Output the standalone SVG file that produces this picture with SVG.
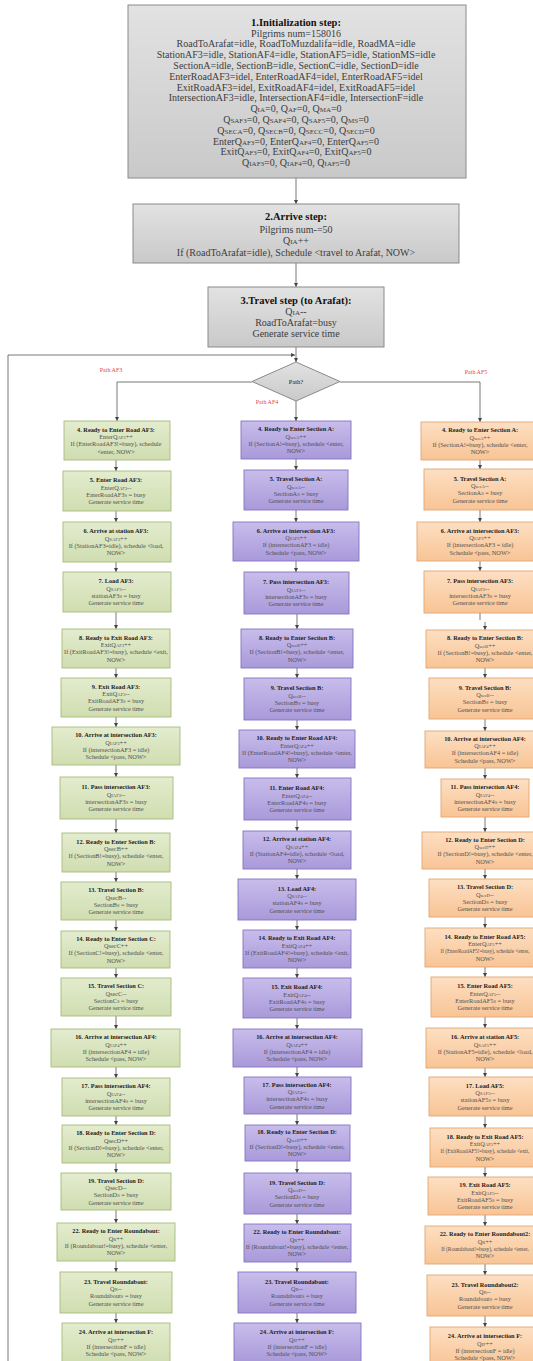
<svg xmlns="http://www.w3.org/2000/svg" width="533" height="1361" viewBox="0 0 533 1361">
<defs>
<linearGradient id="gGray" x1="0" y1="0" x2="0" y2="1"><stop offset="0" stop-color="#e2e2e2"/><stop offset="1" stop-color="#c9c9c9"/></linearGradient>
<linearGradient id="gGreen" x1="0" y1="0" x2="0" y2="1"><stop offset="0" stop-color="#e3ecce"/><stop offset="1" stop-color="#d0ddb0"/></linearGradient>
<linearGradient id="gPurple" x1="0" y1="0" x2="0" y2="1"><stop offset="0" stop-color="#c8bdeb"/><stop offset="1" stop-color="#a999da"/></linearGradient>
<linearGradient id="gOrange" x1="0" y1="0" x2="0" y2="1"><stop offset="0" stop-color="#fddfc2"/><stop offset="1" stop-color="#f8c495"/></linearGradient>
<marker id="ah" viewBox="0 0 6 6" refX="6" refY="3" markerWidth="4" markerHeight="4" markerUnits="userSpaceOnUse" orient="auto"><path d="M0,0 L6,3 L0,6 z" fill="#444"/></marker>
<style>
.gray rect, .gray polygon{fill:url(#gGray);stroke:#8a8a8a;stroke-width:1}
.green rect{fill:url(#gGreen);stroke:#a6bb7c;stroke-width:0.9}
.purple rect{fill:url(#gPurple);stroke:#8574c2;stroke-width:0.9}
.orange rect{fill:url(#gOrange);stroke:#e3a774;stroke-width:0.9}
text{font-family:"Liberation Serif","Times New Roman",serif;text-anchor:middle}
.bt{font-size:10px;fill:#3c3c3c}
.bh{font-size:10.5px;font-weight:bold;fill:#111}
.bs{font-size:7px}
.t{font-size:6.3px;fill:#505050}
.h{font-size:6.3px;font-weight:bold;fill:#1c1c1c}
.s{font-size:4.6px}
.t.n1{font-size:5.1px}
.t.n2{font-size:5.4px}
.red{font-size:6px;fill:#e4474a}
.dec{font-size:6.5px;fill:#222}
#connectors line, #connectors polyline{stroke:#555;stroke-width:0.8;fill:none}
</style>
</defs>
<rect x="0" y="0" width="533" height="1361" fill="#ffffff"/>

<g id="connectors">
<line x1="296" y1="178" x2="296" y2="204" marker-end="url(#ah)"/>
<line x1="296" y1="263" x2="296" y2="287" marker-end="url(#ah)"/>
<line x1="296" y1="347" x2="296" y2="362" marker-end="url(#ah)"/>
<polyline points="8,1361 8,355 295,355" marker-end="url(#ah)"/>
<polyline points="252,382 117,382 117,421" marker-end="url(#ah)"/>
<polyline points="340,382 480,382 480,422" marker-end="url(#ah)"/>
<line x1="296" y1="401" x2="296" y2="421" marker-end="url(#ah)"/>
<line x1="116" y1="460" x2="116" y2="471" marker-end="url(#ah)"/>
<line x1="116" y1="511" x2="116" y2="522" marker-end="url(#ah)"/>
<line x1="116" y1="562" x2="116" y2="572" marker-end="url(#ah)"/>
<line x1="116" y1="612" x2="116" y2="629" marker-end="url(#ah)"/>
<line x1="116" y1="668" x2="116" y2="678" marker-end="url(#ah)"/>
<line x1="116" y1="717" x2="116" y2="727" marker-end="url(#ah)"/>
<line x1="116" y1="765" x2="116" y2="777" marker-end="url(#ah)"/>
<line x1="116" y1="819" x2="116" y2="833" marker-end="url(#ah)"/>
<line x1="116" y1="872" x2="116" y2="882" marker-end="url(#ah)"/>
<line x1="116" y1="920" x2="116" y2="931" marker-end="url(#ah)"/>
<line x1="116" y1="968" x2="116" y2="978" marker-end="url(#ah)"/>
<line x1="116" y1="1016" x2="116" y2="1029" marker-end="url(#ah)"/>
<line x1="116" y1="1067" x2="116" y2="1078" marker-end="url(#ah)"/>
<line x1="116" y1="1116" x2="116" y2="1125" marker-end="url(#ah)"/>
<line x1="116" y1="1163" x2="116" y2="1173" marker-end="url(#ah)"/>
<line x1="116" y1="1210" x2="116" y2="1223" marker-end="url(#ah)"/>
<line x1="116" y1="1261" x2="116" y2="1272" marker-end="url(#ah)"/>
<line x1="116" y1="1313" x2="116" y2="1323" marker-end="url(#ah)"/>
<line x1="296" y1="459" x2="296" y2="470" marker-end="url(#ah)"/>
<line x1="296" y1="510" x2="296" y2="522" marker-end="url(#ah)"/>
<line x1="296" y1="561" x2="296" y2="572" marker-end="url(#ah)"/>
<line x1="297" y1="614" x2="297" y2="629" marker-end="url(#ah)"/>
<line x1="297" y1="668" x2="297" y2="678" marker-end="url(#ah)"/>
<line x1="297" y1="720" x2="297" y2="730" marker-end="url(#ah)"/>
<line x1="297" y1="768" x2="297" y2="778" marker-end="url(#ah)"/>
<line x1="297" y1="820" x2="297" y2="831" marker-end="url(#ah)"/>
<line x1="297" y1="869" x2="297" y2="879" marker-end="url(#ah)"/>
<line x1="297" y1="920" x2="297" y2="930" marker-end="url(#ah)"/>
<line x1="297" y1="968" x2="297" y2="978" marker-end="url(#ah)"/>
<line x1="297" y1="1018" x2="297" y2="1029" marker-end="url(#ah)"/>
<line x1="297" y1="1067" x2="297" y2="1077" marker-end="url(#ah)"/>
<line x1="297" y1="1114" x2="297" y2="1125" marker-end="url(#ah)"/>
<line x1="297" y1="1161" x2="297" y2="1173" marker-end="url(#ah)"/>
<line x1="297" y1="1214" x2="297" y2="1224" marker-end="url(#ah)"/>
<line x1="297" y1="1262" x2="297" y2="1272" marker-end="url(#ah)"/>
<line x1="297" y1="1313" x2="297" y2="1323" marker-end="url(#ah)"/>
<line x1="480" y1="460" x2="480" y2="469" marker-end="url(#ah)"/>
<line x1="480" y1="510" x2="480" y2="522" marker-end="url(#ah)"/>
<line x1="480" y1="561" x2="480" y2="571" marker-end="url(#ah)"/>
<line x1="480" y1="613" x2="480" y2="620"/>
<line x1="485" y1="622" x2="485" y2="630" marker-end="url(#ah)"/>
<line x1="485" y1="668" x2="485" y2="678" marker-end="url(#ah)"/>
<line x1="485" y1="719" x2="485" y2="731" marker-end="url(#ah)"/>
<line x1="485" y1="768" x2="485" y2="779" marker-end="url(#ah)"/>
<line x1="485" y1="817" x2="485" y2="832" marker-end="url(#ah)"/>
<line x1="485" y1="869" x2="485" y2="879" marker-end="url(#ah)"/>
<line x1="485" y1="917" x2="485" y2="928" marker-end="url(#ah)"/>
<line x1="485" y1="967" x2="485" y2="977" marker-end="url(#ah)"/>
<line x1="485" y1="1017" x2="485" y2="1028" marker-end="url(#ah)"/>
<line x1="485" y1="1068" x2="485" y2="1077" marker-end="url(#ah)"/>
<line x1="485" y1="1116" x2="485" y2="1128" marker-end="url(#ah)"/>
<line x1="485" y1="1167" x2="485" y2="1177" marker-end="url(#ah)"/>
<line x1="485" y1="1215" x2="485" y2="1226" marker-end="url(#ah)"/>
<line x1="485" y1="1264" x2="485" y2="1275" marker-end="url(#ah)"/>
<line x1="485" y1="1316" x2="485" y2="1327" marker-end="url(#ah)"/>
</g>

<g id="init" class="gray">
<rect x="128" y="5" width="338" height="173"/>
<text class="bh" x="296" y="26.2">1.Initialization step:</text>
<text class="bt" x="296" y="36.5">Pilgrims num=158016</text>
<text class="bt" x="296" y="47.3">RoadToArafat=idle, RoadToMuzdalifa=idle, RoadMA=idle</text>
<text class="bt" x="296" y="58.1">StationAF3=idle, StationAF4=idle, StationAF5=idle, StationMS=idle</text>
<text class="bt" x="296" y="68.9">SectionA=idle, SectionB=idle, SectionC=idle, SectionD=idle</text>
<text class="bt" x="296" y="79.7">EnterRoadAF3=idel, EnterRoadAF4=idel, EnterRoadAF5=idel</text>
<text class="bt" x="296" y="90.5">ExitRoadAF3=idel, ExitRoadAF4=idel, ExitRoadAF5=idel</text>
<text class="bt" x="296" y="101.3">IntersectionAF3=idle, IntersectionAF4=idle, IntersectionF=idle</text>
<text class="bt" x="296" y="112.1">Q<tspan class="bs">IA</tspan>=0, Q<tspan class="bs">AF</tspan>=0, Q<tspan class="bs">MA</tspan>=0</text>
<text class="bt" x="296" y="122.9">Q<tspan class="bs">SAF3</tspan>=0, Q<tspan class="bs">SAF4</tspan>=0, Q<tspan class="bs">SAF5</tspan>=0,  Q<tspan class="bs">MS</tspan>=0</text>
<text class="bt" x="296" y="133.7">Q<tspan class="bs">SECA</tspan>=0, Q<tspan class="bs">SECB</tspan>=0, Q<tspan class="bs">SECC</tspan>=0, Q<tspan class="bs">SECD</tspan>=0</text>
<text class="bt" x="296" y="144.5">EnterQ<tspan class="bs">AF3</tspan>=0, EnterQ<tspan class="bs">AF4</tspan>=0, EnterQ<tspan class="bs">AF5</tspan>=0</text>
<text class="bt" x="296" y="155.3">ExitQ<tspan class="bs">AF3</tspan>=0, ExitQ<tspan class="bs">AF4</tspan>=0, ExitQ<tspan class="bs">AF5</tspan>=0</text>
<text class="bt" x="296" y="166.1">Q<tspan class="bs">IAF3</tspan>=0, Q<tspan class="bs">IAF4</tspan>=0, Q<tspan class="bs">IAF5</tspan>=0</text>
</g>

<g id="arrive" class="gray">
<rect x="133" y="204" width="326" height="59"/>
<text class="bh" x="296" y="219.7">2.Arrive step:</text>
<text class="bt" x="296" y="232.8">Pilgrims num-=50</text>
<text class="bt" x="296" y="244.2">Q<tspan class="bs">IA</tspan>++</text>
<text class="bt" x="296" y="255.8">If (RoadToArafat=idle), Schedule &lt;travel to Arafat, NOW&gt;</text>
</g>

<g id="travel" class="gray">
<rect x="208" y="287" width="176" height="60"/>
<text class="bh" x="296" y="304">3.Travel step (to Arafat):</text>
<text class="bt" x="296" y="315">Q<tspan class="bs">IA</tspan>--</text>
<text class="bt" x="296" y="326">RoadToArafat=busy</text>
<text class="bt" x="296" y="337">Generate service time</text>
</g>

<g id="decision" class="gray">
<polygon points="296,362 340,381.5 296,401 252,381.5"/>
<text class="dec" x="296" y="384">Path?</text>
</g>

<g id="labels">
<text class="red" x="111" y="372">Path AF3</text>
<text class="red" x="267" y="404">Path AF4</text>
<text class="red" x="476" y="374">Path AF5</text>
</g>

<g id="L4" class="green"><rect x="64" y="421" width="106" height="39"/>
<text class="h" x="116" y="431.9">4. Ready to Enter Road AF3:</text>
<text class="t" x="116" y="439.1">EnterQ<tspan class="s">AF3</tspan>++</text>
<text class="t" x="116" y="446.3">If (EnterRoadAF3!=busy), schedule</text>
<text class="t" x="116" y="453.5">&lt;enter, NOW&gt;</text></g>
<g id="L5" class="green"><rect x="63" y="471" width="108" height="40"/>
<text class="h" x="116" y="482.4">5. Enter Road AF3:</text>
<text class="t" x="116" y="489.6">EnterQ<tspan class="s">AF3</tspan>--</text>
<text class="t" x="116" y="496.8">EnterRoadAF3<tspan class="s">S</tspan> = busy</text>
<text class="t" x="116" y="504">Generate service time</text></g>
<g id="L6" class="green"><rect x="63" y="522" width="108" height="40"/>
<text class="h" x="116" y="533.4">6. Arrive at station AF3:</text>
<text class="t" x="116" y="540.6">Q<tspan class="s">SAF3</tspan>++</text>
<text class="t" x="116" y="547.8">If (StationAF3=idle), schedule &lt;load,</text>
<text class="t" x="116" y="555">NOW&gt;</text></g>
<g id="L7" class="green"><rect x="63" y="572" width="108" height="40"/>
<text class="h" x="116" y="583.4">7. Load AF3:</text>
<text class="t" x="116" y="590.6">Q<tspan class="s">SAF3</tspan>--</text>
<text class="t" x="116" y="597.8">stationAF3<tspan class="s">S</tspan> = busy</text>
<text class="t" x="116" y="605">Generate service time</text></g>
<g id="L8" class="green"><rect x="62" y="629" width="108" height="39"/>
<text class="h" x="116" y="639.9">8. Ready to Exit Road AF3:</text>
<text class="t" x="116" y="647.1">ExitQ<tspan class="s">AF3</tspan>++</text>
<text class="t" x="116" y="654.3">If (ExitRoadAF3!=busy), schedule &lt;exit,</text>
<text class="t" x="116" y="661.5">NOW&gt;</text></g>
<g id="L9" class="green"><rect x="61" y="678" width="110" height="39"/>
<text class="h" x="116" y="688.9">9. Exit Road AF3:</text>
<text class="t" x="116" y="696.1">ExitQ<tspan class="s">AF3</tspan>--</text>
<text class="t" x="116" y="703.3">ExitRoadAF3<tspan class="s">S</tspan> = busy</text>
<text class="t" x="116" y="710.5">Generate service time</text></g>
<g id="L10" class="green"><rect x="52" y="727" width="128" height="38"/>
<text class="h" x="116" y="737.4">10. Arrive at intersection AF3:</text>
<text class="t" x="116" y="744.6">Q<tspan class="s">IAF3</tspan>++</text>
<text class="t" x="116" y="751.8">If (intersectionAF3 = idle)</text>
<text class="t" x="116" y="759">Schedule &lt;pass, NOW&gt;</text></g>
<g id="L11" class="green"><rect x="60" y="777" width="113" height="42"/>
<text class="h" x="116" y="789.4">11. Pass intersection AF3:</text>
<text class="t" x="116" y="796.6">Q<tspan class="s">IAF3</tspan>--</text>
<text class="t" x="116" y="803.8">intersectionAF3<tspan class="s">S</tspan> = busy</text>
<text class="t" x="116" y="811">Generate service time</text></g>
<g id="L12" class="green"><rect x="62" y="833" width="108" height="39"/>
<text class="h" x="116" y="843.9">12. Ready to Enter Section B:</text>
<text class="t" x="116" y="851.1">QsecB++</text>
<text class="t" x="116" y="858.3">If (SectionB!=busy), schedule &lt;enter,</text>
<text class="t" x="116" y="865.5">NOW&gt;</text></g>
<g id="L13" class="green"><rect x="61" y="882" width="110" height="38"/>
<text class="h" x="116" y="892.4">13. Travel Section B:</text>
<text class="t" x="116" y="899.6">QsecB--</text>
<text class="t" x="116" y="906.8">SectionB<tspan class="s">S</tspan> = busy</text>
<text class="t" x="116" y="914">Generate service time</text></g>
<g id="L14" class="green"><rect x="61" y="931" width="109" height="37"/>
<text class="h" x="116" y="940.9">14. Ready to Enter Section C:</text>
<text class="t" x="116" y="948.1">QsecC++</text>
<text class="t" x="116" y="955.3">If (SectionC!=busy), schedule &lt;enter,</text>
<text class="t" x="116" y="962.5">NOW&gt;</text></g>
<g id="L15" class="green"><rect x="61" y="978" width="110" height="38"/>
<text class="h" x="116" y="988.4">15. Travel Section C:</text>
<text class="t" x="116" y="995.6">QsecC--</text>
<text class="t" x="116" y="1002.8">SectionC<tspan class="s">S</tspan> = busy</text>
<text class="t" x="116" y="1010">Generate service time</text></g>
<g id="L16" class="green"><rect x="51" y="1029" width="129" height="38"/>
<text class="h" x="116" y="1039.4">16. Arrive at intersection AF4:</text>
<text class="t" x="116" y="1046.6">Q<tspan class="s">IAF4</tspan>++</text>
<text class="t" x="116" y="1053.8">If (intersectionAF4 = idle)</text>
<text class="t" x="116" y="1061">Schedule &lt;pass, NOW&gt;</text></g>
<g id="L17" class="green"><rect x="62" y="1078" width="108" height="38"/>
<text class="h" x="116" y="1088.4">17. Pass intersection AF4:</text>
<text class="t" x="116" y="1095.6">Q<tspan class="s">IAF4</tspan>--</text>
<text class="t" x="116" y="1102.8">intersectionAF4<tspan class="s">S</tspan> = busy</text>
<text class="t" x="116" y="1110">Generate service time</text></g>
<g id="L18" class="green"><rect x="62" y="1125" width="108" height="38"/>
<text class="h" x="116" y="1135.4">18. Ready to Enter Section D:</text>
<text class="t" x="116" y="1142.6">QsecD++</text>
<text class="t" x="116" y="1149.8">If (SectionD!=busy), schedule &lt;enter,</text>
<text class="t" x="116" y="1157">NOW&gt;</text></g>
<g id="L19" class="green"><rect x="61" y="1173" width="110" height="37"/>
<text class="h" x="116" y="1182.9">19. Travel Section D:</text>
<text class="t" x="116" y="1190.1">QsecD--</text>
<text class="t" x="116" y="1197.3">SectionD<tspan class="s">S</tspan> = busy</text>
<text class="t" x="116" y="1204.5">Generate service time</text></g>
<g id="L22" class="green"><rect x="57" y="1223" width="118" height="38"/>
<text class="h" x="116" y="1233.4">22. Ready to Enter Roundabout:</text>
<text class="t" x="116" y="1240.6">Q<tspan class="s">R</tspan>++</text>
<text class="t" x="116" y="1247.8">If (Roundabout!=busy), schedule &lt;enter,</text>
<text class="t" x="116" y="1255">NOW&gt;</text></g>
<g id="L23" class="green"><rect x="60" y="1272" width="112" height="41"/>
<text class="h" x="116" y="1283.9">23. Travel Roundabout:</text>
<text class="t" x="116" y="1291.1">Q<tspan class="s">R</tspan>--</text>
<text class="t" x="116" y="1298.3">Roundabout<tspan class="s">S</tspan> = busy</text>
<text class="t" x="116" y="1305.5">Generate service time</text></g>
<g id="L24" class="green"><rect x="62" y="1323" width="108" height="40"/>
<text class="h" x="116" y="1334.4">24. Arrive at intersection F:</text>
<text class="t" x="116" y="1341.6">Q<tspan class="s">IF</tspan>++</text>
<text class="t" x="116" y="1348.8">If (intersectionF = idle)</text>
<text class="t" x="116" y="1356">Schedule &lt;pass, NOW&gt;</text></g>

<g id="M4" class="purple"><rect x="241" y="421" width="110" height="38"/>
<text class="h" x="296" y="431.4">4. Ready to Enter Section A:</text>
<text class="t" x="296" y="438.6">Q<tspan class="s">secA</tspan>++</text>
<text class="t" x="296" y="445.8">If (SectionA!=busy), schedule &lt;enter,</text>
<text class="t" x="296" y="453">NOW&gt;</text></g>
<g id="M5" class="purple"><rect x="244" y="470" width="104" height="40"/>
<text class="h" x="296" y="481.4">5. Travel Section A:</text>
<text class="t" x="296" y="488.6">Q<tspan class="s">secA</tspan>--</text>
<text class="t" x="296" y="495.8">SectionA<tspan class="s">S</tspan> = busy</text>
<text class="t" x="296" y="503">Generate service time</text></g>
<g id="M6" class="purple"><rect x="233" y="522" width="126" height="39"/>
<text class="h" x="296" y="532.9">6. Arrive at intersection AF3:</text>
<text class="t" x="296" y="540.1">Q<tspan class="s">IAF3</tspan>++</text>
<text class="t" x="296" y="547.3">If (intersectionAF3 = idle)</text>
<text class="t" x="296" y="554.5">Schedule &lt;pass, NOW&gt;</text></g>
<g id="M7" class="purple"><rect x="244" y="572" width="105" height="42"/>
<text class="h" x="296" y="584.4">7. Pass intersection AF3:</text>
<text class="t" x="296" y="591.6">Q<tspan class="s">IAF3</tspan>--</text>
<text class="t" x="296" y="598.8">intersectionAF3<tspan class="s">S</tspan> = busy</text>
<text class="t" x="296" y="606">Generate service time</text></g>
<g id="M8" class="purple"><rect x="241" y="629" width="112" height="39"/>
<text class="h" x="297" y="639.9">8. Ready to Enter Section B:</text>
<text class="t" x="297" y="647.1">Q<tspan class="s">secB</tspan>++</text>
<text class="t" x="297" y="654.3">If (SectionB!=busy), schedule &lt;enter,</text>
<text class="t" x="297" y="661.5">NOW&gt;</text></g>
<g id="M9" class="purple"><rect x="244" y="678" width="107" height="42"/>
<text class="h" x="297" y="690.4">9. Travel Section B:</text>
<text class="t" x="297" y="697.6">Q<tspan class="s">secB</tspan>--</text>
<text class="t" x="297" y="704.8">SectionB<tspan class="s">S</tspan> = busy</text>
<text class="t" x="297" y="712">Generate service time</text></g>
<g id="M10" class="purple"><rect x="239" y="730" width="116" height="38"/>
<text class="h" x="297" y="740.4">10. Ready to Enter Road AF4:</text>
<text class="t" x="297" y="747.6">EnterQ<tspan class="s">AF4</tspan>++</text>
<text class="t" x="297" y="754.8">If (EnterRoadAF4!=busy), schedule &lt;enter,</text>
<text class="t" x="297" y="762">NOW&gt;</text></g>
<g id="M11" class="purple"><rect x="244" y="778" width="107" height="42"/>
<text class="h" x="297" y="790.4">11. Enter Road AF4:</text>
<text class="t" x="297" y="797.6">EnterQ<tspan class="s">AF4</tspan>--</text>
<text class="t" x="297" y="804.8">EnterRoadAF4<tspan class="s">S</tspan> = busy</text>
<text class="t" x="297" y="812">Generate service time</text></g>
<g id="M12" class="purple"><rect x="243" y="831" width="108" height="38"/>
<text class="h" x="297" y="841.4">12. Arrive at station AF4:</text>
<text class="t" x="297" y="848.6">Q<tspan class="s">SAF4</tspan>++</text>
<text class="t" x="297" y="855.8">If (StationAF4=idle), schedule &lt;load,</text>
<text class="t" x="297" y="863">NOW&gt;</text></g>
<g id="M13" class="purple"><rect x="238" y="879" width="118" height="41"/>
<text class="h" x="297" y="890.9">13. Load AF4:</text>
<text class="t" x="297" y="898.1">Q<tspan class="s">SAF4</tspan>--</text>
<text class="t" x="297" y="905.3">stationAF4<tspan class="s">S</tspan> = busy</text>
<text class="t" x="297" y="912.5">Generate service time</text></g>
<g id="M14" class="purple"><rect x="243" y="930" width="108" height="38"/>
<text class="h" x="297" y="940.4">14. Ready to Exit Road AF4:</text>
<text class="t" x="297" y="947.6">ExitQ<tspan class="s">AF4</tspan>++</text>
<text class="t" x="297" y="954.8">If (ExitRoadAF4!=busy), schedule &lt;exit,</text>
<text class="t" x="297" y="962">NOW&gt;</text></g>
<g id="M15" class="purple"><rect x="243" y="978" width="108" height="40"/>
<text class="h" x="297" y="989.4">15. Exit Road AF4:</text>
<text class="t" x="297" y="996.6">ExitQ<tspan class="s">AF4</tspan>--</text>
<text class="t" x="297" y="1003.8">ExitRoadAF4<tspan class="s">S</tspan> = busy</text>
<text class="t" x="297" y="1011">Generate service time</text></g>
<g id="M16" class="purple"><rect x="233" y="1029" width="129" height="38"/>
<text class="h" x="297" y="1039.4">16. Arrive at intersection AF4:</text>
<text class="t" x="297" y="1046.6">Q<tspan class="s">IAF4</tspan>++</text>
<text class="t" x="297" y="1053.8">If (intersectionAF4 = idle)</text>
<text class="t" x="297" y="1061">Schedule &lt;pass, NOW&gt;</text></g>
<g id="M17" class="purple"><rect x="244" y="1077" width="107" height="37"/>
<text class="h" x="297" y="1086.9">17. Pass intersection AF4:</text>
<text class="t" x="297" y="1094.1">Q<tspan class="s">IAF4</tspan>--</text>
<text class="t" x="297" y="1101.3">intersectionAF4<tspan class="s">S</tspan> = busy</text>
<text class="t" x="297" y="1108.5">Generate service time</text></g>
<g id="M18" class="purple"><rect x="245" y="1125" width="105" height="36"/>
<text class="h" x="297" y="1134.4">18. Ready to Enter Section D:</text>
<text class="t" x="297" y="1141.6">Q<tspan class="s">secD</tspan>++</text>
<text class="t" x="297" y="1148.8">If (SectionD!=busy), schedule &lt;enter,</text>
<text class="t" x="297" y="1156">NOW&gt;</text></g>
<g id="M19" class="purple"><rect x="244" y="1173" width="107" height="41"/>
<text class="h" x="297" y="1184.9">19. Travel Section D:</text>
<text class="t" x="297" y="1192.1">Q<tspan class="s">secD</tspan>--</text>
<text class="t" x="297" y="1199.3">SectionD<tspan class="s">S</tspan> = busy</text>
<text class="t" x="297" y="1206.5">Generate service time</text></g>
<g id="M22" class="purple"><rect x="244" y="1224" width="107" height="38"/>
<text class="h" x="297" y="1234.4">22. Ready to Enter Roundabout:</text>
<text class="t" x="297" y="1241.6">Q<tspan class="s">R</tspan>++</text>
<text class="t" x="297" y="1248.8">If (Roundabout!=busy), schedule &lt;enter,</text>
<text class="t" x="297" y="1256">NOW&gt;</text></g>
<g id="M23" class="purple"><rect x="238" y="1272" width="118" height="41"/>
<text class="h" x="297" y="1283.9">23. Travel Roundabout:</text>
<text class="t" x="297" y="1291.1">Q<tspan class="s">R</tspan>--</text>
<text class="t" x="297" y="1298.3">Roundabout<tspan class="s">S</tspan> = busy</text>
<text class="t" x="297" y="1305.5">Generate service time</text></g>
<g id="M24" class="purple"><rect x="234" y="1323" width="127" height="40"/>
<text class="h" x="297" y="1334.4">24. Arrive at intersection F:</text>
<text class="t" x="297" y="1341.6">Q<tspan class="s">IF</tspan>++</text>
<text class="t" x="297" y="1348.8">If (intersectionF = idle)</text>
<text class="t" x="297" y="1356">Schedule &lt;pass, NOW&gt;</text></g>

<g id="R4" class="orange"><rect x="421" y="422" width="118" height="38"/>
<text class="h" x="480" y="432.4">4. Ready to Enter Section A:</text>
<text class="t" x="480" y="439.6">Q<tspan class="s">secA</tspan>++</text>
<text class="t" x="480" y="446.8">If (SectionA!=busy), schedule &lt;enter,</text>
<text class="t" x="480" y="454">NOW&gt;</text></g>
<g id="R5" class="orange"><rect x="424" y="469" width="112" height="41"/>
<text class="h" x="480" y="480.9">5. Travel Section A:</text>
<text class="t" x="480" y="488.1">Q<tspan class="s">secA</tspan>--</text>
<text class="t" x="480" y="495.3">SectionA<tspan class="s">S</tspan> = busy</text>
<text class="t" x="480" y="502.5">Generate service time</text></g>
<g id="R6" class="orange"><rect x="417" y="522" width="126" height="39"/>
<text class="h" x="480" y="532.9">6. Arrive at intersection AF3:</text>
<text class="t" x="480" y="540.1">Q<tspan class="s">IAF3</tspan>++</text>
<text class="t" x="480" y="547.3">If (intersectionAF3 = idle)</text>
<text class="t" x="480" y="554.5">Schedule &lt;pass, NOW&gt;</text></g>
<g id="R7" class="orange"><rect x="424" y="571" width="112" height="42"/>
<text class="h" x="480" y="583.4">7. Pass intersection AF3:</text>
<text class="t" x="480" y="590.6">Q<tspan class="s">IAF3</tspan>--</text>
<text class="t" x="480" y="597.8">intersectionAF3<tspan class="s">S</tspan> = busy</text>
<text class="t" x="480" y="605">Generate service time</text></g>
<g id="R8" class="orange"><rect x="426" y="630" width="118" height="38"/>
<text class="h" x="485" y="640.4">8. Ready to Enter Section B:</text>
<text class="t" x="485" y="647.6">Q<tspan class="s">secB</tspan>++</text>
<text class="t" x="485" y="654.8">If (SectionB!=busy), schedule &lt;enter,</text>
<text class="t" x="485" y="662">NOW&gt;</text></g>
<g id="R9" class="orange"><rect x="429" y="678" width="112" height="41"/>
<text class="h" x="485" y="689.9">9. Travel Section B:</text>
<text class="t" x="485" y="697.1">Q<tspan class="s">secB</tspan>--</text>
<text class="t" x="485" y="704.3">SectionB<tspan class="s">S</tspan> = busy</text>
<text class="t" x="485" y="711.5">Generate service time</text></g>
<g id="R10" class="orange"><rect x="425" y="731" width="120" height="37"/>
<text class="h" x="485" y="740.9">10. Arrive at intersection AF4:</text>
<text class="t" x="485" y="748.1">Q<tspan class="s">IAF4</tspan>++</text>
<text class="t" x="485" y="755.3">If (intersectionAF4 = idle)</text>
<text class="t" x="485" y="762.5">Schedule &lt;pass, NOW&gt;</text></g>
<g id="R11" class="orange"><rect x="441" y="779" width="88" height="38"/>
<text class="h" x="485" y="789.4">11. Pass intersection AF4:</text>
<text class="t" x="485" y="796.6">Q<tspan class="s">IAF4</tspan>--</text>
<text class="t" x="485" y="803.8">intersectionAF4<tspan class="s">S</tspan> = busy</text>
<text class="t" x="485" y="811">Generate service time</text></g>
<g id="R12" class="orange"><rect x="422" y="832" width="126" height="37"/>
<text class="h" x="485" y="841.9">12. Ready to Enter Section D:</text>
<text class="t" x="485" y="849.1">Q<tspan class="s">secD</tspan>++</text>
<text class="t" x="485" y="856.3">If (SectionD!=busy), schedule &lt;enter,</text>
<text class="t" x="485" y="863.5">NOW&gt;</text></g>
<g id="R13" class="orange"><rect x="429" y="879" width="112" height="38"/>
<text class="h" x="485" y="889.4">13. Travel Section D:</text>
<text class="t" x="485" y="896.6">Q<tspan class="s">secD</tspan>--</text>
<text class="t" x="485" y="903.8">SectionD<tspan class="s">S</tspan> = busy</text>
<text class="t" x="485" y="911">Generate service time</text></g>
<g id="R14" class="orange"><rect x="425" y="928" width="120" height="39"/>
<text class="h" x="485" y="938.9">14. Ready to Enter Road AF5:</text>
<text class="t" x="485" y="946.1">EnterQ<tspan class="s">AF5</tspan>++</text>
<text class="t n1" x="485" y="953.3">If (EnterRoadAF5!=busy), schedule &lt;enter,</text>
<text class="t" x="485" y="960.5">NOW&gt;</text></g>
<g id="R15" class="orange"><rect x="431" y="977" width="108" height="40"/>
<text class="h" x="485" y="988.4">15. Enter Road AF5:</text>
<text class="t" x="485" y="995.6">EnterQ<tspan class="s">AF5</tspan>--</text>
<text class="t" x="485" y="1002.8">EnterRoadAF5<tspan class="s">S</tspan> = busy</text>
<text class="t" x="485" y="1010">Generate service time</text></g>
<g id="R16" class="orange"><rect x="426" y="1028" width="118" height="40"/>
<text class="h" x="485" y="1039.4">16. Arrive at station AF5:</text>
<text class="t" x="485" y="1046.6">Q<tspan class="s">SAF5</tspan>++</text>
<text class="t" x="485" y="1053.8">If (StationAF5=idle), schedule &lt;load,</text>
<text class="t" x="485" y="1061">NOW&gt;</text></g>
<g id="R17" class="orange"><rect x="429" y="1077" width="112" height="39"/>
<text class="h" x="485" y="1087.9">17. Load AF5:</text>
<text class="t" x="485" y="1095.1">Q<tspan class="s">SAF5</tspan>--</text>
<text class="t" x="485" y="1102.3">stationAF5<tspan class="s">S</tspan> = busy</text>
<text class="t" x="485" y="1109.5">Generate service time</text></g>
<g id="R18" class="orange"><rect x="430" y="1128" width="110" height="39"/>
<text class="h" x="485" y="1138.9">18. Ready to Exit Road AF5:</text>
<text class="t" x="485" y="1146.1">ExitQ<tspan class="s">AF5</tspan>++</text>
<text class="t n2" x="485" y="1153.3">If (ExitRoadAF5!=busy), schedule &lt;exit,</text>
<text class="t" x="485" y="1160.5">NOW&gt;</text></g>
<g id="R19" class="orange"><rect x="428" y="1177" width="114" height="38"/>
<text class="h" x="485" y="1187.4">19. Exit Road AF5:</text>
<text class="t" x="485" y="1194.6">ExitQ<tspan class="s">AF5</tspan>--</text>
<text class="t" x="485" y="1201.8">ExitRoadAF5<tspan class="s">S</tspan> = busy</text>
<text class="t" x="485" y="1209">Generate service time</text></g>
<g id="R22" class="orange"><rect x="425" y="1226" width="120" height="38"/>
<text class="h" x="485" y="1236.4">22. Ready to Enter Roundabout2:</text>
<text class="t" x="485" y="1243.6">Q<tspan class="s">R</tspan>++</text>
<text class="t n2" x="485" y="1250.8">If (Roundabout!=busy), schedule &lt;enter,</text>
<text class="t" x="485" y="1258">NOW&gt;</text></g>
<g id="R23" class="orange"><rect x="427" y="1275" width="116" height="41"/>
<text class="h" x="485" y="1286.9">23. Travel Roundabout2:</text>
<text class="t" x="485" y="1294.1">Q<tspan class="s">R</tspan>--</text>
<text class="t" x="485" y="1301.3">Roundabout<tspan class="s">S</tspan> = busy</text>
<text class="t" x="485" y="1308.5">Generate service time</text></g>
<g id="R24" class="orange"><rect x="430" y="1327" width="110" height="40"/>
<text class="h" x="485" y="1338.4">24. Arrive at intersection F:</text>
<text class="t" x="485" y="1345.6">Q<tspan class="s">IF</tspan>++</text>
<text class="t" x="485" y="1352.8">If (intersectionF = idle)</text>
<text class="t" x="485" y="1360">Schedule &lt;pass, NOW&gt;</text></g>
</svg>
